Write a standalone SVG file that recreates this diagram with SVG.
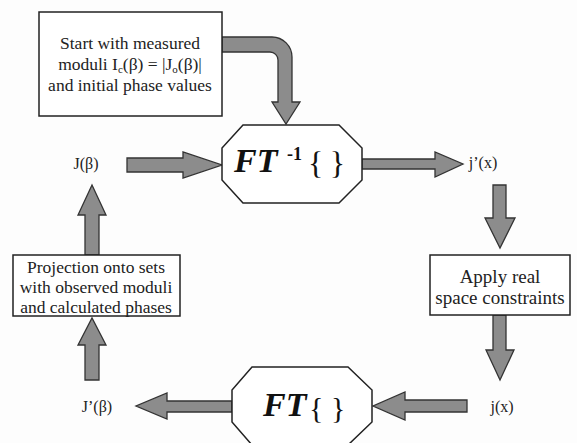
<svg xmlns="http://www.w3.org/2000/svg" width="577" height="443" viewBox="0 0 577 443">
<style>
.box{fill:#fff;stroke:#222;stroke-width:1.5}
.arr{fill:#8c8c8c;stroke:#333;stroke-width:1.3;stroke-linejoin:miter}
.t{font-family:"Liberation Serif","Times New Roman",serif;font-size:17.5px;fill:#222;text-anchor:middle}
.lbl{font-family:"Liberation Serif","Times New Roman",serif;font-size:16px;fill:#222;text-anchor:middle}
.ft{font-family:"Liberation Serif","Times New Roman",serif;font-weight:bold;font-style:italic;font-size:34px;fill:#111}
.br{font-family:"Liberation Serif","Times New Roman",serif;font-size:32px;fill:#111}
.sup{font-family:"Liberation Serif","Times New Roman",serif;font-weight:bold;font-size:18px;fill:#111}
</style>
<rect width="577" height="443" fill="#fdfdfd"/>
<g id="connectors">
<path class="arr" d="M222,37 H272 A20,20 0 0 1 292,57 V102 H300 L286,124 L272,102 H278 V60 A8,8 0 0 0 270,52 H222 Z"/>
<path class="arr" d="M127,158 H183 V152 L222,165 L183,178 V172 H127 Z"/>
<path class="arr" d="M362,159 H435 V152 L463,164 L435,177 V169 H362 Z"/>
<path class="arr" d="M493,185 H506 V218 H515 L500,248 L485,218 H493 Z"/>
<path class="arr" d="M493,315 H506 V350 H514 L500,380 L486,350 H493 Z"/>
<path class="arr" d="M467,400 H405 V392 L373,406 L405,420 V412 H467 Z"/>
<path class="arr" d="M232,401 H167 V393 L136,406 L167,419 V412 H232 Z"/>
<path class="arr" d="M85,380 H99 V345 H106 L92,318 L78,345 H85 Z"/>
<path class="arr" d="M85,255 H99 V215 H106 L92,185 L78,215 H85 Z"/>
</g>
<g id="start">
<rect class="box" x="39" y="12" width="183" height="104"/>
<text class="t" x="130" y="49">Start with measured</text>
<text class="t" x="130" y="70">moduli I<tspan font-size="11" dy="3">c</tspan><tspan dy="-3">(β) = |J</tspan><tspan font-size="11" dy="3">o</tspan><tspan dy="-3">(β)|</tspan></text>
<text class="t" x="130" y="91">and initial phase values</text>
</g>
<g id="ift">
<polygon class="box" points="243,125 339,125 362,148 362,180 339,203 243,203 222,180 222,148"/>
<text class="ft" x="234" y="172">FT</text>
<text class="sup" x="287" y="160">-1</text>
<text class="br" x="308" y="174" textLength="37" lengthAdjust="spacing">{ }</text>
</g>
<g id="Jbeta"><text class="lbl" x="86" y="169">J(β)</text></g>
<g id="jpx"><text class="lbl" x="483" y="168">j’(x)</text></g>
<g id="apply">
<rect class="box" x="430" y="255" width="140" height="60"/>
<text class="t" x="500" y="283" style="font-size:19px">Apply real</text>
<text class="t" x="500" y="304" style="font-size:19px">space constraints</text>
</g>
<g id="jx"><text class="lbl" x="502" y="412">j(x)</text></g>
<g id="ft">
<polygon class="box" points="252,367 348,367 372,390 372,422 348,445 252,445 232,422 232,390"/>
<text class="ft" x="263" y="416">FT</text>
<text class="br" x="309" y="418" style="font-size:30px">{ }</text>
</g>
<g id="Jpbeta"><text class="lbl" x="97" y="412">J’(β)</text></g>
<g id="projection">
<rect class="box" x="13" y="255" width="167" height="61"/>
<text class="t" x="96" y="273">Projection onto sets</text>
<text class="t" x="96" y="293">with observed moduli</text>
<text class="t" x="96" y="313">and calculated phases</text>
</g>
</svg>
